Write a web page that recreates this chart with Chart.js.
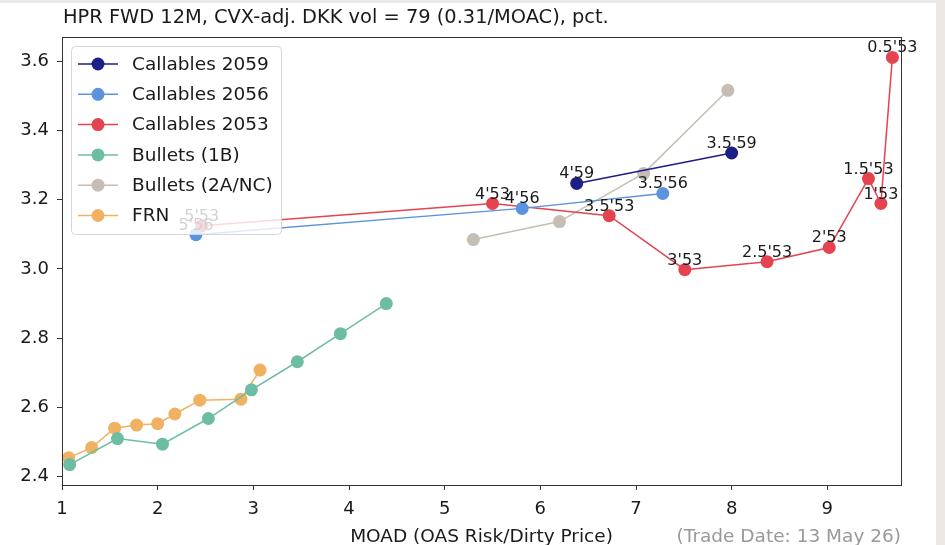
<!DOCTYPE html>
<html>
<head>
<meta charset="utf-8">
<script src="https://cdn.jsdelivr.net/npm/chart.js@4/dist/chart.umd.min.js"></script>
<style>
  html, body { margin: 0; padding: 0; background: #ece8e6; }
  #wrap { width: 945px; height: 545px; }
</style>
</head>
<body>
<div id="wrap"><canvas id="chart" width="945" height="545"></canvas></div>
<script>
// values
var c59X = [6.38, 8.00];
var c59Y = [3.247, 3.335];
var c59Labels = ["4'59", "3.5'59"];

var c56X = [2.40, 5.81, 7.28];
var c56Y = [3.099, 3.175, 3.218];
var c56Labels = ["5'56", "4'56", "3.5'56"];

var c53X = [2.46, 5.50, 6.72, 7.51, 8.37, 9.02, 9.43, 9.56, 9.68];
var c53Y = [3.125, 3.189, 3.154, 2.998, 3.021, 3.062, 3.261, 3.189, 3.611];
var c53Labels = ["5'53", "4'53", "3.5'53", "3'53", "2.5'53", "2'53", "1.5'53", "1'53", "0.5'53"];

var b1X = [1.08, 1.58, 2.05, 2.53, 2.98, 3.46, 3.91, 4.39];
var b1Y = [2.435, 2.510, 2.494, 2.568, 2.651, 2.732, 2.813, 2.900];

var b2X = [5.30, 6.20, 7.08, 7.96];
var b2Y = [3.085, 3.137, 3.276, 3.516];

var frnX = [1.07, 1.31, 1.55, 1.78, 2.00, 2.18, 2.44, 2.87, 3.07];
var frnY = [2.455, 2.484, 2.540, 2.549, 2.553, 2.581, 2.621, 2.624, 2.708];

var xTicks = [1, 2, 3, 4, 5, 6, 7, 8, 9];
var yTicks = [2.4, 2.6, 2.8, 3.0, 3.2, 3.4, 3.6];

var FONT = 'DejaVu Sans';

function _points(xs, ys) {
  return xs.map(function (x, i) { return { x: x, y: ys[i] } });
}

function _series(label, xs, ys, color, names) {
  return {
    label: label,
    data: _points(xs, ys),
    names: names || null,
    showLine: true,
    borderColor: color,
    backgroundColor: color,
    borderWidth: 1.5,
    pointRadius: 6.5,
    pointBorderWidth: 0,
    pointHoverRadius: 6.5
  }
}

var datasets = [
  _series('Callables 2059', c59X, c59Y, '#1b1f86', c59Labels),
  _series('Callables 2056', c56X, c56Y, '#5b93df', c56Labels),
  _series('Callables 2053', c53X, c53Y, '#e5434f', c53Labels),
  _series('Bullets (1B)', b1X, b1Y, '#6cbda3'),
  _series('Bullets (2A/NC)', b2X, b2Y, '#c6beb4'),
  _series('FRN', frnX, frnY, '#f0b162')
];

/* Private */

var decorations = {
  id: 'decorations',
  beforeDraw: function (chart) {
    var ctx = chart.ctx;
    ctx.save();
    ctx.fillStyle = '#ece8e6';
    ctx.fillRect(0, 0, chart.width, chart.height);
    ctx.fillStyle = '#ffffff';
    ctx.fillRect(0, 3, 936, chart.height - 3);
    ctx.restore();
  },
  afterDatasetsDraw: function (chart) {
    var ctx = chart.ctx;
    ctx.save();
    ctx.font = '16px "' + FONT + '"';
    ctx.fillStyle = '#1a1a1a';
    ctx.textAlign = 'center';
    ctx.textBaseline = 'alphabetic';
    chart.data.datasets.forEach(function (ds, i) {
      if (!ds.names) return;
      var meta = chart.getDatasetMeta(i);
      meta.data.forEach(function (pt, j) {
        ctx.fillText(ds.names[j], pt.x, pt.y - 5);
      });
    });
    ctx.restore();
  },
  afterDraw: function (chart) {
    var ctx = chart.ctx, a = chart.chartArea;
    ctx.save();
    // frame
    ctx.strokeStyle = '#333333';
    ctx.lineWidth = 1;
    ctx.strokeRect(Math.round(a.left) + 0.5, Math.round(a.top) + 0.5,
      Math.round(a.right - a.left), Math.round(a.bottom - a.top));

    // title
    ctx.fillStyle = '#1a1a1a';
    ctx.font = '19.4px "' + FONT + '"';
    ctx.textAlign = 'left';
    ctx.textBaseline = 'middle';
    ctx.fillText('HPR FWD 12M, CVX-adj. DKK vol = 79 (0.31/MOAC), pct.', a.left + 1, 18);

    // x axis titles
    ctx.font = '18.5px "' + FONT + '"';
    ctx.textAlign = 'center';
    ctx.fillText('MOAD (OAS Risk/Dirty Price)', (a.left + a.right) / 2, 537);
    ctx.fillStyle = '#999999';
    ctx.textAlign = 'right';
    ctx.fillText('(Trade Date: 13 May 26)', a.right, 537);

    // legend
    var lx = 71, ly = 46, lw = 210, lh = 188;
    ctx.beginPath();
    ctx.roundRect(lx + 0.5, ly + 0.5, lw, lh, 4);
    ctx.fillStyle = 'rgba(255,255,255,0.8)';
    ctx.fill();
    ctx.strokeStyle = '#d6d6d6';
    ctx.stroke();

    ctx.font = '18.5px "' + FONT + '"';
    ctx.textAlign = 'left';
    ctx.textBaseline = 'middle';
    chart.data.datasets.forEach(function (ds, i) {
      var y = 64 + i * 30.3;
      ctx.strokeStyle = ds.borderColor;
      ctx.lineWidth = 1.5;
      ctx.beginPath();
      ctx.moveTo(78, y);
      ctx.lineTo(118, y);
      ctx.stroke();
      ctx.fillStyle = ds.backgroundColor;
      ctx.beginPath();
      ctx.arc(98, y, 6.5, 0, Math.PI * 2);
      ctx.fill();
      ctx.fillStyle = '#1a1a1a';
      ctx.fillText(ds.label, 132, y + 1);
    });
    ctx.restore();
  }
};

var tickFont = { family: FONT, size: 18 };

new Chart(document.getElementById('chart').getContext('2d'), {
  type: 'scatter',
  data: { datasets: datasets },
  plugins: [decorations],
  options: {
    responsive: false,
    devicePixelRatio: 1,
    animation: false,
    layout: { padding: { top: 37, right: 44, left: 0, bottom: 0 } },
    plugins: {
      legend: { display: false },
      title: { display: false },
      tooltip: { enabled: false }
    },
    scales: {
      x: {
        type: 'linear',
        min: 1.0,
        max: 9.77,
        afterFit: function (scale) { scale.height = 60 },
        afterBuildTicks: function (scale) {
          scale.ticks = xTicks.map(function (v) { return { value: v } });
        },
        ticks: { font: tickFont, color: '#1a1a1a', padding: 9, maxRotation: 0,
                 callback: function (v) { return String(v) } },
        grid: { drawOnChartArea: false, drawTicks: true, tickLength: 5, color: '#333333' },
        border: { display: true, color: '#333333' }
      },
      y: {
        type: 'linear',
        min: 2.376,
        max: 3.670,
        afterFit: function (scale) { scale.width = 62 },
        afterBuildTicks: function (scale) {
          scale.ticks = yTicks.map(function (v) { return { value: v } });
        },
        ticks: { font: tickFont, color: '#1a1a1a', padding: 8,
                 callback: function (v) { return Number(v).toFixed(1) } },
        grid: { drawOnChartArea: false, drawTicks: true, tickLength: 5, color: '#333333' },
        border: { display: true, color: '#333333' }
      }
    }
  }
});
</script>
</body>
</html>
